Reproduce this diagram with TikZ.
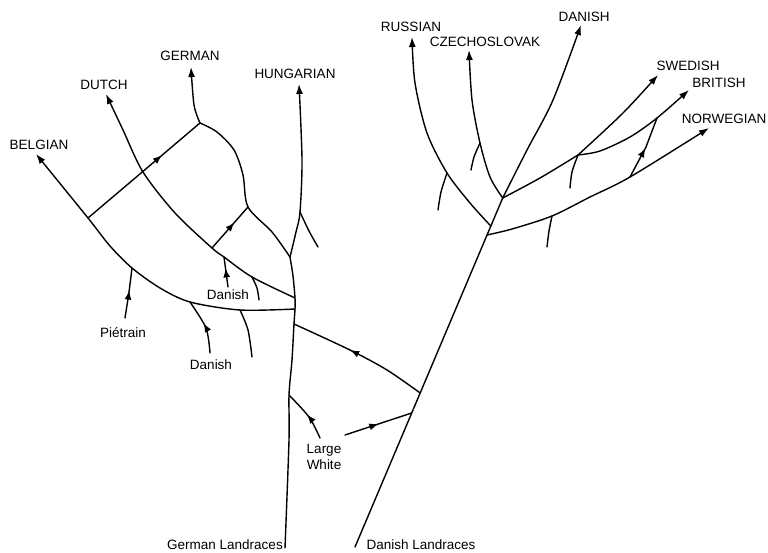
\documentclass[tikz,border=0pt]{standalone}
\usepackage{fontspec}
\setmainfont{Liberation Sans}
\usetikzlibrary{arrows.meta,decorations.markings}
\begin{document}
\begin{tikzpicture}[x=1pt,y=-1pt,
  br/.style={line width=1.4pt, line cap=round, line join=round},
  tipped/.style={br,-{Latex[length=10pt,width=7pt]}},
  midarrow/.style={br, postaction={decorate}, decoration={markings, mark=at position #1 with {\arrow{Latex[length=9pt,width=7pt]}}}},
  midarrow/.default=0.55,
  lab/.style={font=\fontsize{13.5}{16}\selectfont, inner sep=0pt}
]
\useasboundingbox (0,0) rectangle (768,553);
% labels
\node[lab] (lBel) at (39,145) {BELGIAN};
\node[lab] (lDut) at (104,85) {DUTCH};
\node[lab] (lGer) at (190,56) {GERMAN};
\node[lab] (lHun) at (295,74) {HUNGARIAN};
\node[lab] (lRus) at (411,27) {RUSSIAN};
\node[lab] (lCze) at (485,42) {CZECHOSLOVAK};
\node[lab] (lDanT) at (584,17) {DANISH};
\node[lab] (lSwe) at (688,66) {SWEDISH};
\node[lab] (lBri) at (719,83) {BRITISH};
\node[lab] (lNor) at (724,119) {NORWEGIAN};
\node[lab] (lDan1) at (228,295) {Danish};
\node[lab] (lPie) at (123,333) {Piétrain};
\node[lab] (lDan2) at (211,365) {Danish};
\node[lab, align=center] (lLW) at (324,457) {Large\\White};
\node[lab] (lGL) at (225,545) {German Landraces};
\node[lab] (lDL) at (421,545) {Danish Landraces};
% german side coordinates
\coordinate (g0) at (285,548);
\coordinate (glw) at (289,395);
\coordinate (gc) at (294,324);
\coordinate (gb) at (295,309);
\coordinate (gt) at (295,298);
\coordinate (hj) at (290,257);
\coordinate (hb) at (300,212);
\coordinate (htw) at (318,247);
\coordinate (tHun) at (299,84);
\coordinate (gj) at (200,123);
\coordinate (gj2) at (248,207);
\coordinate (tGer) at (191,67);
\coordinate (tDut) at (106,94);
\coordinate (tBel) at (36,154);
\coordinate (bx) at (88,218);
\coordinate (dx) at (212,248);
\coordinate (dd) at (224,257);
\coordinate (dtw) at (252,277);
\coordinate (dtwe) at (259,300);
\coordinate (dan1e) at (228,287);
\coordinate (pj) at (132,268);
\coordinate (pe) at (125,318);
\coordinate (dj2) at (190,302);
\coordinate (dan2e) at (210,353);
\coordinate (btw) at (240,310);
\coordinate (btwe) at (252,357);
\coordinate (lw1) at (320,438);
\coordinate (lw2) at (345,435);
% danish side coordinates
\coordinate (d0) at (355,547);
\coordinate (dlw) at (411.7,413);
\coordinate (dc) at (420.2,393);
\coordinate (dn) at (487,235);
\coordinate (dr) at (490.8,226);
\coordinate (dk) at (502.7,198);
\coordinate (tDanT) at (581,25);
\coordinate (tRus) at (412,37);
\coordinate (rtw) at (447,173);
\coordinate (rtwe) at (438,210);
\coordinate (tCze) at (469,50);
\coordinate (ctw) at (480,143);
\coordinate (ctwe) at (471,170);
\coordinate (sb) at (578,155);
\coordinate (sbe) at (570,188);
\coordinate (tSwe) at (658,75);
\coordinate (tBri) at (689,90);
\coordinate (bj) at (657,118);
\coordinate (nj) at (630,177);
\coordinate (nm) at (646,147);
\coordinate (ntw) at (552,216);
\coordinate (ntwe) at (547,247);
\coordinate (tNor) at (709,128);
% german side
\draw[br] plot[smooth] coordinates {(g0) (289,440) (glw) (292,360) (gc) (gb) (gt) (293,276) (hj)};
\draw[tipped] plot[smooth] coordinates {(hj) (296,232) (hb) (302,160) (tHun)};
\draw[br] plot[smooth] coordinates {(hb) (309,231) (htw)};
\draw[tipped] plot[smooth] coordinates {(gj) (194,105) (tGer)};
\draw[br] plot[smooth] coordinates {(gj) (217,132) (234,150) (243,175) (gj2) (272,232) (hj)};
\draw[midarrow=0.66] (bx) -- (gj);
\draw[midarrow=0.62] (dx) -- (gj2);
\draw[tipped] plot[smooth] coordinates {(gt) (dtw) (dd) (dx) (175,213) (143,172) (123,130) (tDut)};
\draw[tipped] plot[smooth] coordinates {(gb) (btw) (dj2) (160,288) (pj) (110,246) (bx) (tBel)};
\draw[midarrow=0.55] plot[smooth] coordinates {(pe) (129,292) (pj)};
\draw[midarrow=0.55] plot[smooth] coordinates {(dan2e) (206,328) (dj2)};
\draw[midarrow=0.62] (dan1e) -- (dd);
\draw[br] plot[smooth] coordinates {(btw) (248,330) (btwe)};
\draw[br] plot[smooth] coordinates {(dtw) (257,288) (dtwe)};
% links between the two trunks
\draw[midarrow=0.57] plot[smooth] coordinates {(dc) (387,370) (350,350) (gc)};
\draw[midarrow=0.5] plot[smooth] coordinates {(lw1) (309,417) (glw)};
\draw[midarrow=0.5] (lw2) -- (dlw);
% danish side
\draw[br] (d0) -- (dk);
\draw[tipped] plot[smooth] coordinates {(dk) (527,150) (553,100) (tDanT)};
\draw[tipped] plot[smooth] coordinates {(dr) (470,203) (rtw) (427,133) (415,83) (tRus)};
\draw[br] plot[smooth] coordinates {(rtw) (441,192) (rtwe)};
\draw[tipped] plot[smooth] coordinates {(dk) (490,177) (ctw) (472,100) (tCze)};
\draw[br] plot[smooth] coordinates {(ctw) (474,157) (ctwe)};
\draw[br] plot[smooth] coordinates {(dk) (540,178) (sb)};
\draw[tipped] plot[smooth] coordinates {(sb) (623,113) (tSwe)};
\draw[tipped] plot[smooth] coordinates {(sb) (600,151) (630,137) (bj) (tBri)};
\draw[br] plot[smooth] coordinates {(sb) (572,172) (sbe)};
\draw[tipped] plot[smooth] coordinates {(dn) (512,229) (ntw) (590,197) (nj) (tNor)};
\draw[br] plot[smooth] coordinates {(ntw) (549,231) (ntwe)};
\draw[midarrow=0.5] (nj) -- (nm) -- (bj);
\end{tikzpicture}
\end{document}
